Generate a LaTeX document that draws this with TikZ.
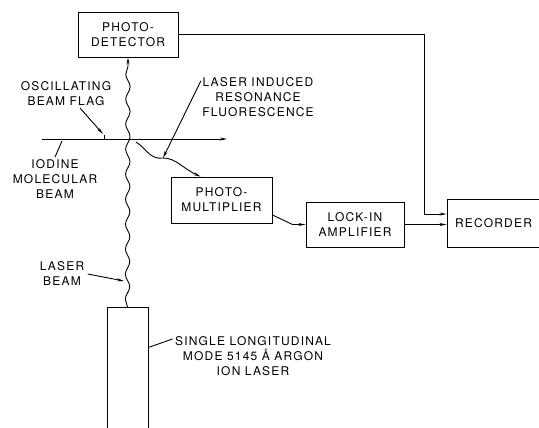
\documentclass[tikz,border=0pt]{standalone}
\usepackage{fontspec}
\setmainfont{TeX Gyre Heros}[LetterSpace=10]
\usetikzlibrary{arrows.meta,decorations.pathmorphing}

\begin{document}
\begin{tikzpicture}[x=1pt,y=-1pt,line width=0.9pt,
  font=\fontsize{12}{15}\selectfont,
  blockbox/.style={draw,minimum width=100pt,minimum height=45pt,align=center,inner sep=2pt},
  lbl/.style={align=center,inner sep=0pt},
  arr/.style={-{Stealth[length=7pt,width=3pt]}}]
  \useasboundingbox (0,0) rectangle (539,428);
  \clip (0,0) rectangle (539,428);
  % boxes
  \node[blockbox] (pd) at (128,34.5) {PHOTO-\\DETECTOR};
  \node[blockbox,minimum width=101pt,minimum height=46pt] (pm) at (221.5,200) {PHOTO-\\MULTIPLIER};
  \node[blockbox,minimum width=98pt] (li) at (355,224.5) {LOCK-IN\\AMPLIFIER};
  \node[blockbox,minimum width=93pt,minimum height=48pt] (rec) at (493.5,223) {RECORDER};
  \node[draw,minimum width=41pt,minimum height=130pt,anchor=north,inner sep=0pt] (laser) at (127.5,307) {};
  % labels
  \node[lbl] (flagtxt) at (66,93.5) {OSCILLATING\\BEAM FLAG};
  \node[lbl] (iodtxt) at (55,179) {IODINE\\MOLECULAR\\BEAM};
  \node[lbl] (lirftxt) at (258,97) {LASER INDUCED\\RESONANCE\\FLUORESCENCE};
  \node[lbl] (lbtxt) at (62,274) {LASER\\BEAM};
  \node[lbl] (lasertxt) at (253,356) {SINGLE LONGITUDINAL\\MODE 5145 Å ARGON\\ION LASER};
  % molecular beam and flag
  \coordinate (mbstart) at (42,139);
  \coordinate (mbend) at (227,139);
  \coordinate (flag) at (104,139);
  \coordinate (iodpt) at (62,141);
  \draw[arr] (mbstart) -- (mbend);
  \draw (flag) -- ++(0,-4);
  \draw[arr] ([xshift=14pt,yshift=-2pt]flagtxt.south) -- ([xshift=-1pt,yshift=5pt]flag);
  \draw ([yshift=2pt]iodtxt.north) -- (iodpt);
  % laser beam
  \draw[arr,decorate,decoration={snake,segment length=25pt,amplitude=2.2pt,post length=6pt}]
    (laser.north) -- (pd.south);
  \coordinate (lbpt) at (124,281);
  \draw[arr] ([xshift=3pt]lbtxt.east) -- (lbpt);
  \draw ([yshift=25pt]laser.east) -- ([shift={(-2pt,-3pt)}]lasertxt.north west);
  % fluorescence
  \coordinate (cross) at (136,142);
  \coordinate (flpt) at (163,158);
  \draw[arr] (cross) .. controls (146,148) and (150,160) .. (flpt)
    .. controls (176,158) and (182,168) .. ([xshift=30pt]pm.north west);
  \draw[arr] ([shift={(-1pt,-4pt)}]lirftxt.north west) -- (flpt);
  % signal path
  \draw[arr] ([yshift=-15pt]pm.east) -- ([xshift=-13pt]li.west) -- (li.west);
  \draw[arr] (li.east) -- (rec.west |- li.east);
  \draw[arr] (pd.east) -- ++(246,0) |- ([yshift=9pt]rec.west);
\end{tikzpicture}
\end{document}
